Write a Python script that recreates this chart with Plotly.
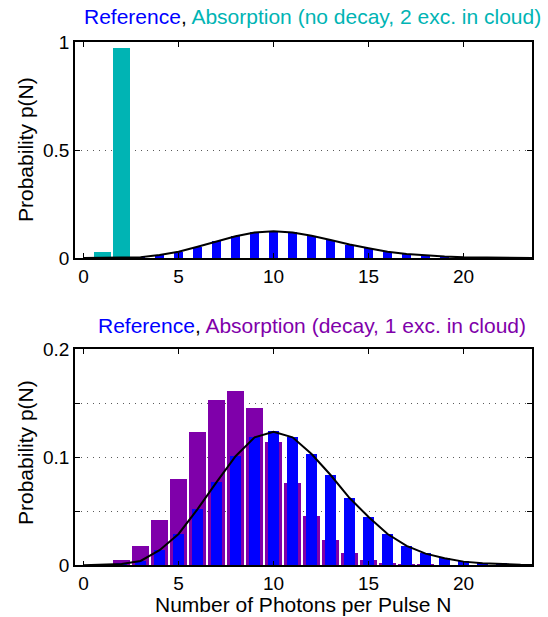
import plotly.graph_objects as go

# Photon-number distributions p(N), N = 0 .. 24
N = list(range(0, 25))

# Reference pulse distribution (blue bars + black curve)
p_reference = [0.0, 0.0003, 0.0012, 0.004, 0.014, 0.029, 0.052, 0.077, 0.101,
               0.1185, 0.1237, 0.1185, 0.103, 0.0836, 0.0623, 0.0447, 0.029,
               0.018, 0.0108, 0.0065, 0.0034, 0.002, 0.001, 0.0005, 0.0002]

# Absorption without decay, 2 excitations stored in the cloud
N_nodecay = [1, 2]
p_nodecay = [0.027, 0.973]

# Absorption with decay, 1 excitation stored in the cloud
N_decay = list(range(0, 19))
p_decay = [0.0, 0.0005, 0.005, 0.0173, 0.042, 0.080, 0.1228, 0.153, 0.1614,
           0.1457, 0.1135, 0.0762, 0.0457, 0.0234, 0.0114, 0.0049, 0.002,
           0.0008, 0.0003]

BLUE = "rgb(0,0,255)"
TEAL = "rgb(0,180,180)"
PURPLE = "rgb(127,0,170)"
FONT = "Liberation Sans, Arial, sans-serif"

W, H = 548, 617


def fx(px):
    return px / W


def fy(py):
    return 1 - py / H


fig = go.Figure()

# ---- top panel ----
fig.add_trace(go.Bar(x=N_nodecay, y=p_nodecay, width=0.9, marker_color=TEAL,
                     marker_line_width=0, xaxis="x", yaxis="y", showlegend=False))
fig.add_trace(go.Bar(x=N, y=p_reference, width=0.5, marker_color=BLUE,
                     marker_line_width=0, xaxis="x", yaxis="y", showlegend=False))
fig.add_trace(go.Scatter(x=N, y=p_reference, mode="lines",
                         line=dict(color="black", width=2),
                         xaxis="x", yaxis="y", showlegend=False))

# ---- bottom panel ----
fig.add_trace(go.Bar(x=N_decay, y=p_decay, width=0.9, marker_color=PURPLE,
                     marker_line_width=0, xaxis="x2", yaxis="y2", showlegend=False))
fig.add_trace(go.Bar(x=N, y=p_reference, width=0.55, marker_color=BLUE,
                     marker_line_width=0, xaxis="x2", yaxis="y2", showlegend=False))
fig.add_trace(go.Scatter(x=N, y=p_reference, mode="lines",
                         line=dict(color="black", width=2),
                         xaxis="x2", yaxis="y2", showlegend=False))

xr = [-0.45, 23.6]
xdom = [fx(75), fx(532)]

common_x = dict(range=xr, domain=xdom, tickvals=[0, 5, 10, 15, 20],
                ticks="inside", ticklen=5, tickwidth=1, tickcolor="black",
                showline=True, linecolor="black", linewidth=1.5, mirror="ticks",
                showgrid=False, zeroline=False, automargin=False,
                tickfont=dict(family=FONT, size=19, color="black"))
common_y = dict(ticks="inside", ticklen=5, tickwidth=1, tickcolor="black",
                showline=True, linecolor="black", linewidth=1.5, mirror="ticks",
                showgrid=True, gridcolor="rgb(90,90,90)", griddash="1px,5px",
                gridwidth=1, zeroline=False, automargin=False,
                tickfont=dict(family=FONT, size=19, color="black"))

fig.update_layout(
    width=W, height=H,
    margin=dict(l=0, r=0, t=0, b=0, pad=0, autoexpand=False),
    paper_bgcolor="white", plot_bgcolor="white",
    barmode="overlay", bargap=0,
    xaxis=dict(**common_x, anchor="y"),
    yaxis=dict(**common_y, anchor="x", range=[0, 1],
               domain=[fy(258), fy(42)],
               tickvals=[0, 0.5, 1], ticktext=["0", "0.5", "1"]),
    xaxis2=dict(**common_x, anchor="y2"),
    yaxis2=dict(**common_y, anchor="x2", range=[0, 0.2],
                domain=[fy(565.3), fy(349.3)],
                tickvals=[0, 0.05, 0.1, 0.15, 0.2],
                ticktext=["0", "", "0.1", "", "0.2"]),
)

title_font = dict(family=FONT, size=21, color="black")
annotations = [
    dict(text=f"<span style='color:{BLUE}'>Reference</span>, "
              f"<span style='color:{TEAL}'>Absorption (no decay, 2 exc. in cloud)</span>",
         x=fx(312), y=fy(17), xref="paper", yref="paper",
         xanchor="center", yanchor="middle", showarrow=False, font=title_font),
    dict(text=f"<span style='color:{BLUE}'>Reference</span>, "
              f"<span style='color:{PURPLE}'>Absorption (decay, 1 exc. in cloud)</span>",
         x=fx(312), y=fy(325), xref="paper", yref="paper",
         xanchor="center", yanchor="middle", showarrow=False, font=title_font),
    dict(text="Probability p(N)", x=fx(25), y=fy(150), xref="paper", yref="paper",
         xanchor="center", yanchor="middle", textangle=-90, showarrow=False,
         font=title_font),
    dict(text="Probability p(N)", x=fx(25), y=fy(453), xref="paper", yref="paper",
         xanchor="center", yanchor="middle", textangle=-90, showarrow=False,
         font=title_font),
    dict(text="Number of Photons per Pulse N", x=fx(303), y=fy(604),
         xref="paper", yref="paper", xanchor="center", yanchor="middle",
         showarrow=False, font=title_font),
]
fig.update_layout(annotations=annotations)

fig.write_html("out.html")
